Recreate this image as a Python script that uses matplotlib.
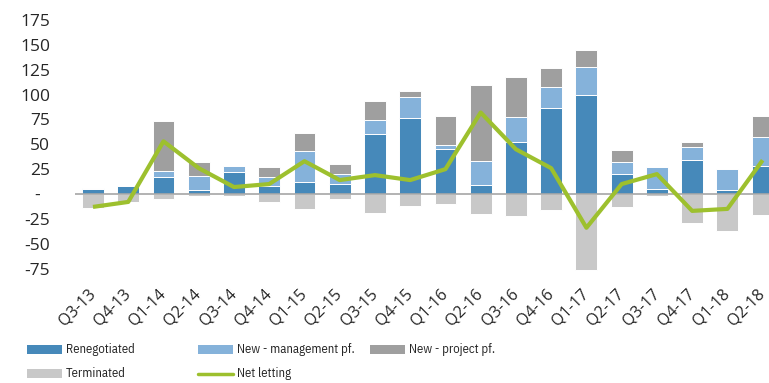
import matplotlib
matplotlib.use("Agg")
import matplotlib.pyplot as plt
import numpy as np
from matplotlib.patches import Rectangle
from matplotlib.lines import Line2D
from matplotlib.transforms import ScaledTranslation
from matplotlib import font_manager

quarters = ["Q3-13", "Q4-13", "Q1-14", "Q2-14", "Q3-14", "Q4-14", "Q1-15", "Q2-15",
            "Q3-15", "Q4-15", "Q1-16", "Q2-16", "Q3-16", "Q4-16", "Q1-17", "Q2-17",
            "Q3-17", "Q4-17", "Q1-18", "Q2-18"]
renegotiated = [5, 8, 17, 4, 22, 8, 12, 10, 60, 76, 45, 9, 52, 87, 100, 20, 5, 34, 4, 28]
new_management = [1, 0, 6, 14, 6, 9, 31, 10, 14, 22, 4, 24, 25, 21, 28, 12, 22, 13, 21, 29]
new_project = [0, 0, 50, 14, 0, 10, 18, 10, 20, 6, 29, 77, 41, 19, 17, 12, 0, 5, 0, 21]
terminated = [-14, -8, -5, -2, -2, -8, -15, -5, -19, -12, -10, -20, -22, -16, -76, -13, -2, -29, -37, -21]
net_letting = [-13, -8, 53, 26, 7, 10, 33, 14, 19, 14, 25, 82, 45, 26, -34, 10, 20, -17, -15, 34]
yticks = [-75, -50, -25, 0, 25, 50, 75, 100, 125, 150, 175]
ytick_labels = ["-75", "-50", "-25", "-", "25", "50", "75", "100", "125", "150", "175"]

series_names = ["Renegotiated", "New - management pf.", "New - project pf.", "Terminated", "Net letting"]

c_ren = "#4689BA"
c_mgmt = "#85B2DA"
c_proj = "#9F9F9F"
c_term = "#C8C8C8"
c_net = "#9DC02E"
txt = "#262626"

names = {f.name for f in font_manager.fontManager.ttflist}
base_font = "Open Sans" if "Open Sans" in names else "DejaVu Sans"
plt.rcParams["font.family"] = [base_font, "DejaVu Sans"]
if "IBM Plex Sans Condensed" in names:
    leg_fp = font_manager.FontProperties(family="IBM Plex Sans Condensed", size=9.2)
else:
    leg_fp = font_manager.FontProperties(family=base_font, size=8.5)

W, H = 769, 383
fig = plt.figure(figsize=(W / 100, H / 100), dpi=100)
left_px, right_px, top_px, bottom_px = 75, 769, 20.1, 270.5
ax = fig.add_axes([left_px / W, 1 - bottom_px / H, (right_px - left_px) / W, (bottom_px - top_px) / H])

x = np.arange(len(quarters))
bw = 0.62
ren = np.array(renegotiated, float)
mg = np.array(new_management, float)
pj = np.array(new_project, float)
ekw = dict(edgecolor="white", linewidth=0.7, zorder=2)
ax.bar(x, ren, bw, color=c_ren, **ekw)
ax.bar(x, mg, bw, bottom=ren, color=c_mgmt, **ekw)
ax.bar(x, pj, bw, bottom=ren + mg, color=c_proj, **ekw)
ax.bar(x, terminated, bw, color=c_term, **ekw)
ax.axhline(0, color="#A6A6A6", lw=1.2, zorder=3)
ax.plot(x, net_letting, color=c_net, lw=3.0, solid_joinstyle="round", solid_capstyle="butt", zorder=4)

ax.set_xlim(-0.51, 19.18)
ax.set_ylim(-77, 175)
for s in ax.spines.values():
    s.set_visible(False)
ax.set_yticks(yticks)
ax.set_yticklabels(ytick_labels, fontsize=12.5, color=txt)
ax.tick_params(axis="y", length=0, pad=18)
ax.set_xticks(x)
ax.set_xticklabels(quarters, rotation=45, ha="right", rotation_mode="anchor", va="center",
                   fontsize=11.5, color=txt)
ax.tick_params(axis="x", length=0, pad=15)

# shift the zero label "-" left like the reference
for lab, v in zip(ax.get_yticklabels(), yticks):
    if v == 0:
        lab.set_transform(lab.get_transform() + ScaledTranslation(-10 / 100, 0, fig.dpi_scale_trans))

# legend (manual, Excel-like fixed columns)
colors = [c_ren, c_mgmt, c_proj, c_term]
pos = [(27, 349.5), (198, 349.5), (370, 349.5), (27, 373.5)]
for name, col, (px, py) in zip(series_names[:4], colors, pos):
    fig.patches.append(Rectangle((px / W, 1 - (py + 4.5) / H), 35 / W, 9 / H,
                                 transform=fig.transFigure, facecolor=col, edgecolor="none"))
    fig.text((px + 39) / W, 1 - py / H, name, color=txt, va="center", ha="left", fontproperties=leg_fp)
px, py = 198, 373.5
fig.lines.append(Line2D([px / W, (px + 35) / W], [1 - py / H, 1 - py / H], transform=fig.transFigure,
                        color=c_net, lw=2.5, solid_capstyle="round"))
fig.text((px + 39) / W, 1 - py / H, series_names[4], color=txt, va="center", ha="left", fontproperties=leg_fp)

fig.savefig("out.png", dpi=100)
